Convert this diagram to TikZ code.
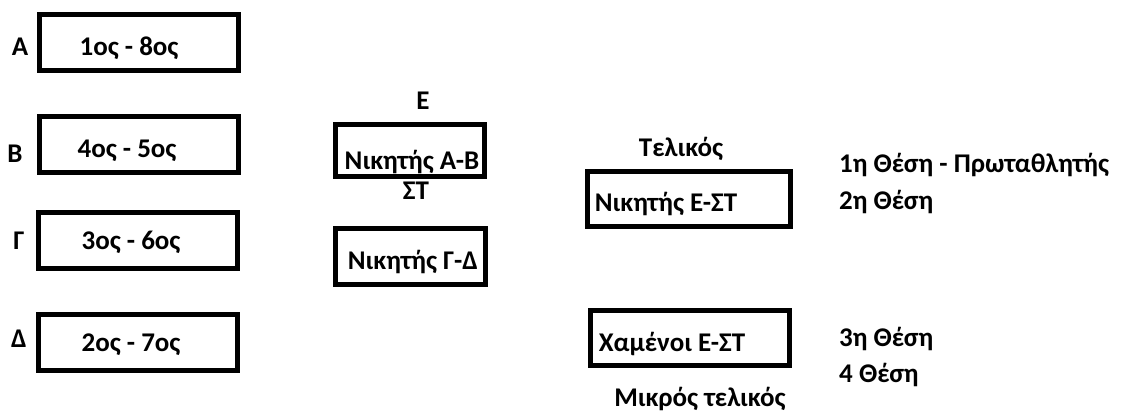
\documentclass[tikz,border=0pt]{standalone}
\usepackage{fontspec}
\setmainfont{Carlito}
\begin{document}
\begin{tikzpicture}[x=1pt,y=-1pt,
  box/.style n args={2}{draw, line width=5pt, inner sep=0pt, minimum width=#1, minimum height=#2},
  txt/.style={font=\bfseries\fontsize{27}{32}\selectfont, inner sep=0pt, anchor=base},
  ltxt/.style={txt, anchor=base west}]
\useasboundingbox (0,0) rectangle (1122,412);
% left column boxes
\node[box={199pt}{56pt}] (bA) at (139,42.5) {};
\node[box={199pt}{56pt}] (bB) at (139,144.5) {};
\node[box={199pt}{56pt}] (bG) at (138,240.5) {};
\node[box={199pt}{56pt}] (bD) at (138,342.5) {};
\node[txt] (tA) at (129,56) {1ος - 8ος};
\node[txt] (tB) at (127,157) {4ος - 5ος};
\node[txt] (tG) at (131,249) {3ος - 6ος};
\node[txt] (tD) at (131,351) {2ος - 7ος};
\node[txt] (lA) at (20,56) {Α};
\node[txt] (lB) at (15,162) {Β};
\node[txt] (lG) at (19,249) {Γ};
\node[txt] (lD) at (19,347) {Δ};
% semifinals
\node[box={149pt}{52pt}] (bE) at (410,150.5) {};
\node[box={150pt}{56pt}] (bS) at (410.5,256.5) {};
\node[txt] (lE) at (423,109) {Ε};
\node[txt] (tE) at (412,169) {Νικητής Α-Β};
\node[txt] (lS) at (416,199) {ΣΤ};
\node[txt] (tS) at (413,269) {Νικητής Γ-Δ};
% finals
\node[box={203pt}{55pt}] (bF) at (689,199) {};
\node[box={199pt}{55pt}] (bM) at (690,338) {};
\node[txt] (lF) at (681,156) {Τελικός};
\node[txt] (tF) at (666,211) {Νικητής Ε-ΣΤ};
\node[txt] (tM) at (672,351) {Χαμένοι Ε-ΣΤ};
\node[txt] (lM) at (700,406) {Μικρός τελικός};
% results
\node[ltxt] (r1) at (839,172) {1η Θέση - Πρωταθλητής};
\node[ltxt] (r2) at (839,209) {2η Θέση};
\node[ltxt] (r3) at (839,346) {3η Θέση};
\node[ltxt] (r4) at (839,382) {4 Θέση};
\end{tikzpicture}
\end{document}
